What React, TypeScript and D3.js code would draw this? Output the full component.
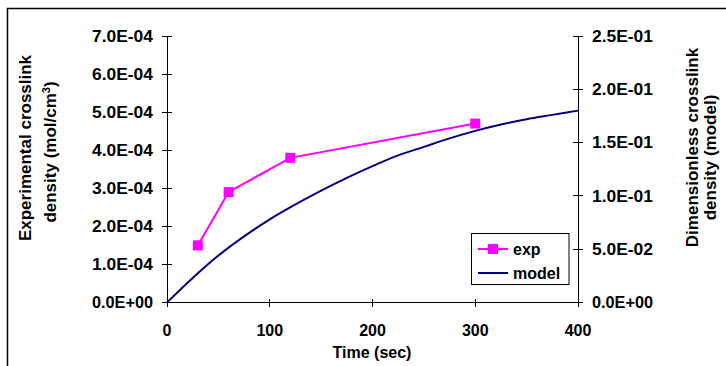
import React from 'react';
import * as d3 from 'd3';

// experimental points (mol/cm3)
const expTime = [30, 60, 120, 300];
const expValue = [1.5e-4, 2.9e-4, 3.8e-4, 4.7e-4];

// model curve (dimensionless)
const modelTime = [0, 25, 50, 75, 100, 125, 150, 175, 200, 225, 250, 275, 300, 325, 350, 375, 400];
const modelValue = [0, 0.023, 0.044, 0.062, 0.078, 0.092, 0.105, 0.117, 0.128, 0.138, 0.146, 0.154, 0.161, 0.167, 0.172, 0.176, 0.18];

const xTicks = [0, 100, 200, 300, 400];
const leftTicks = [0, 1e-4, 2e-4, 3e-4, 4e-4, 5e-4, 6e-4, 7e-4];
const rightTicks = [0, 0.05, 0.1, 0.15, 0.2, 0.25];

const W = 726;
const H = 366;
const font = '"Liberation Sans", Arial, sans-serif';

const fmtE = (v: number) => {
  const s = v.toExponential(1).toUpperCase(); // e.g. 7.0E-4
  const m = s.match(/^(-?[\d.]+)E([+-])(\d+)$/);
  if (!m) return s;
  return `${m[1]}E${m[2]}${m[3].padStart(2, '0')}`;
};

export default function App() {
  const x = d3.scaleLinear().domain([0, 400]).range([167, 578]);
  const yL = d3.scaleLinear().domain([0, 7e-4]).range([302.5, 36]);
  const yR = d3.scaleLinear().domain([0, 0.25]).range([302.5, 36]);

  const expPts = expTime.map((t, i) => [t, expValue[i]] as [number, number]);
  const modelPts = modelTime.map((t, i) => [t, modelValue[i]] as [number, number]);

  const expLine = d3.line<[number, number]>().x(d => x(d[0])).y(d => yL(d[1]));
  const modelLine = d3.line<[number, number]>()
    .x(d => x(d[0])).y(d => yR(d[1]))
    .curve(d3.curveMonotoneX);

  const [x0, x1] = x.range();
  const [yb, yt] = yL.range();

  return (
    <svg width={W} height={H} style={{ position: 'absolute', left: 0, top: 0 }}
      fontFamily={font} fontWeight="bold">
      <rect width={W} height={H} fill="#fff" />
      {/* outer frame, cut by the picture edge */}
      <path d={`M7.5,${H}V8.5H${W}`} fill="none" stroke="#000" strokeWidth={1.5} />

      {/* axes */}
      <g stroke="#000" strokeWidth={1} fill="none" shapeRendering="crispEdges">
        <line x1={x0} x2={x0} y1={yt} y2={yb} />
        <line x1={x1} x2={x1} y1={yt} y2={yb} />
        <line x1={x0} x2={x1} y1={yb} y2={yb} />
        {leftTicks.map(v => (
          <line key={'l' + v} x1={x0 - 5} x2={x0 + 5} y1={yL(v)} y2={yL(v)} />
        ))}
        {rightTicks.map(v => (
          <line key={'r' + v} x1={x1 - 5} x2={x1 + 5} y1={yR(v)} y2={yR(v)} />
        ))}
        {xTicks.map(v => (
          <line key={'x' + v} x1={x(v)} x2={x(v)} y1={yb - 4} y2={yb + 4} />
        ))}
      </g>

      <g fontSize={16} fill="#000">
        {leftTicks.map(v => (
          <text key={'lt' + v} x={153} y={yL(v)} dy="0.36em" textAnchor="end"
            textLength={61} lengthAdjust="spacingAndGlyphs">{fmtE(v)}</text>
        ))}
        {rightTicks.map(v => (
          <text key={'rt' + v} x={592} y={yR(v)} dy="0.36em"
            textLength={61} lengthAdjust="spacingAndGlyphs">{fmtE(v)}</text>
        ))}
        {xTicks.map(v => (
          <text key={'xt' + v} x={x(v)} y={336} textAnchor="middle">{v}</text>
        ))}
      </g>

      {/* axis titles */}
      <g fill="#000" textAnchor="middle">
        <text x={372} y={358} fontSize={16}>Time (sec)</text>
        <g fontSize={17}>
          <text transform="translate(31,148) rotate(-90)">Experimental crosslink</text>
          <text transform="translate(56,152) rotate(-90)">
            density (mol/cm<tspan fontSize={11} dy={-6}>3</tspan><tspan dy={6}>)</tspan>
          </text>
          <text transform="translate(698,147.5) rotate(-90)">Dimensionless crosslink</text>
          <text transform="translate(716,157.5) rotate(-90)">density (model)</text>
        </g>
      </g>

      {/* model */}
      <path d={modelLine(modelPts) ?? ''} fill="none" stroke="#000080" strokeWidth={2} />

      {/* exp */}
      <path d={expLine(expPts) ?? ''} fill="none" stroke="#FF00FF" strokeWidth={2} />
      {expPts.map((d, i) => (
        <rect key={i} x={x(d[0]) - 5} y={yL(d[1]) - 5} width={10} height={10} fill="#FF00FF" />
      ))}

      {/* legend */}
      <g>
        <rect x={471.5} y={233.5} width={97.5} height={51} fill="#fff" stroke="#000" strokeWidth={1} />
        <line x1={478} x2={508} y1={249} y2={249} stroke="#FF00FF" strokeWidth={2} />
        <rect x={488} y={244} width={10} height={10} fill="#FF00FF" />
        <line x1={478} x2={508} y1={273} y2={273} stroke="#000080" strokeWidth={2} />
        <text x={513} y={249} dy="0.36em" fontSize={16}>exp</text>
        <text x={513} y={273} dy="0.36em" fontSize={16}>model</text>
      </g>
    </svg>
  );
}
